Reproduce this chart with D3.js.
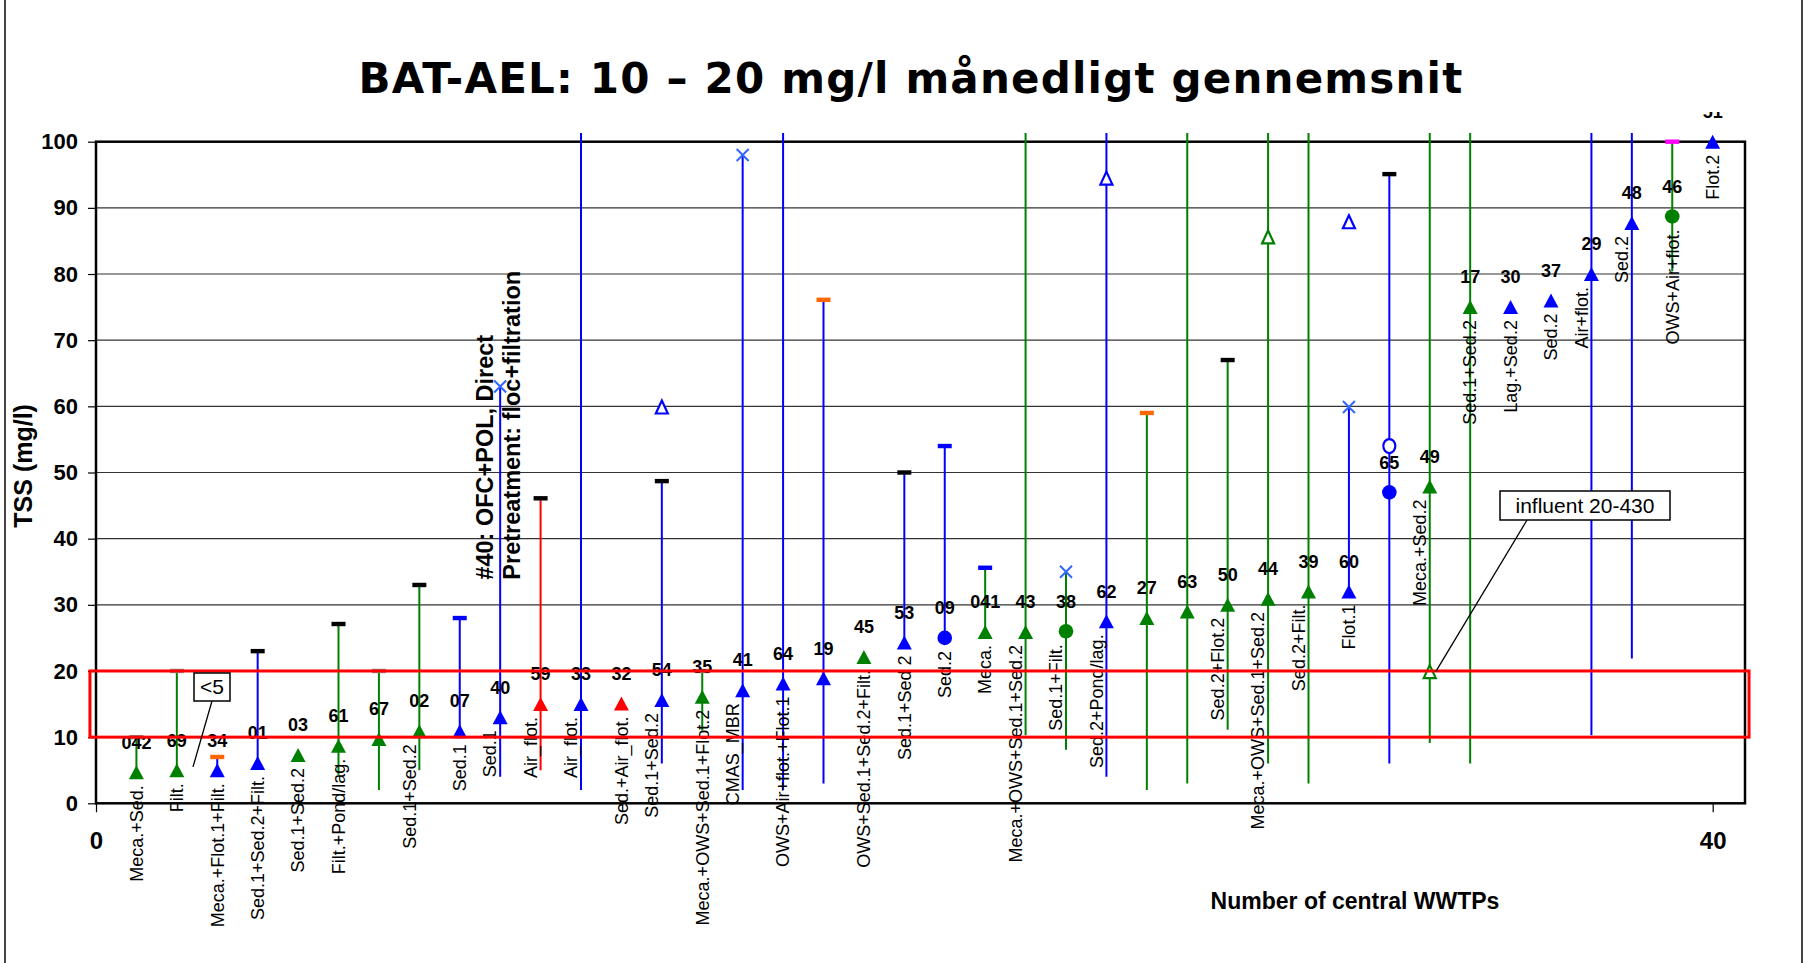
<!DOCTYPE html>
<html>
<head>
<meta charset="utf-8">
<script src="https://cdn.jsdelivr.net/npm/d3@7"></script>
<style>
  body { margin: 0; background: #fff; }
  svg { display: block; }
</style>
</head>
<body>
<svg id="chart" width="1805" height="963"></svg>
<script>
// Station numbers (shown above each point), in plotting order 1..40
const stationIds = ["042","69","34","01","03","61","67","02","07","40",
  "59","33","32","54","35","41","64","19","45","53",
  "09","041","43","38","62","27","63","50","44","39",
  "60","65","49","17","30","37","29","48","46","51"];

// Treatment description for each station ("" = no label)
const treatments = ["Meca.+Sed.","Filt.","Meca.+Flot.1+Filt.","Sed.1+Sed.2+Filt.","Sed.1+Sed.2","Filt.+Pond/lag.","","Sed.1+Sed.2","Sed.1","Sed.1",
  "Air_flot.","Air_flot.","Sed.+Air_flot.","Sed.1+Sed.2","Meca.+OWS+Sed.1+Flot.2","CMAS_MBR","OWS+Air+flot.+Flot.1","","OWS+Sed.1+Sed.2+Filt.","Sed.1+Sed 2",
  "Sed.2","Meca.","Meca.+OWS+Sed.1+Sed.2","Sed.1+Filt.","Sed.2+Pond/lag.","","","Sed.2+Flot.2","Meca.+OWS+Sed.1+Sed.2","Sed.2+Filt.",
  "Flot.1","","Meca.+Sed.2","Sed.1+Sed.2","Lag.+Sed.2","Sed.2","Air+flot.","Sed.2","OWS+Air+flot.","Flot.2"];

// Monthly average TSS (mg/l)
const tssValues = [4.7,5,5,6.1,7.3,8.7,9.7,10.9,10.9,13,
  15,15,15.1,15.6,16.1,17.1,18.1,18.9,22.1,24.3,
  25,25.9,25.9,26,27.5,28,29,30,30.9,32,
  32,47,47.9,75,75,76,80,87.7,88.7,100];

// Series group of each station (g = green, b = blue, r = red in the original)
const groups = ["g","g","b","b","g","g","g","g","b","b",
  "r","b","r","b","g","b","b","b","g","b",
  "b","g","g","g","b","g","g","g","g","g",
  "b","b","g","g","b","b","b","b","g","b"];

// Marker type of the average value
const avgShape = ["tri","tri","tri","tri","tri","tri","tri","tri","tri","tri",
  "tri","tri","tri","tri","tri","tri","tri","tri","tri","tri",
  "circle","tri","tri","circle","tri","tri","tri","tri","tri","tri",
  "tri","circle","tri","tri","tri","tri","tri","tri","circle","tri"];

// Range of single values (min / max, null = no range drawn)
const rangeMin = [4.7,5,5,6.1,null,4.3,2,5,10,4,
  5,2,null,6,11,2,2,3,null,24.3,
  25,25.9,10.3,8.1,4,2,3,11.1,6,3,
  32,6,9.1,6,null,null,10.3,21.9,80.4,null];
const rangeMax = [10,20,7,23,null,27.1,20,33,28,63,
  46.1,101.3,null,48.7,20,98,101.3,76.1,null,50,
  54,35.6,101.3,35,101.3,59,101.3,67,101.3,101.3,
  60,95.1,101.3,101.3,null,null,101.3,101.3,100,null];
// Kind of end mark at the max of the range
const capKind = ["k5","k5","k2","k1",null,"k1","k5","k1","k3",null,
  "k1",null,null,"k1","k5",null,null,"k2",null,"k1",
  "k3","k3",null,null,null,"k2",null,"k1",null,null,
  null,"k1",null,null,null,null,null,null,"k4",null];

// Additional single points
const extraStation = [10,16,24,31,14,25,29,31,33,32];
const extraValue = [63,98,35,59.9,59.9,94.5,85.6,87.9,19.9,54];
const extraKind = ["cross","cross","cross","cross","openTri","openTri","openTri","openTri","openTri","openCircle"];

const yTicks = [0,10,20,30,40,50,60,70,80,90,100];
const xTicks = [0,40];
const batLow = 10, batHigh = 20;

// stations whose treatment label sits left of the range line
const shiftedLabels = new Set(["02","40","59","33","54","41","43","38","62","50","44","39","49","29","48"]);

const svg = d3.select("#chart");
const W = 1805, H = 963;

const x = d3.scaleLinear().domain([0, 40.8]).range([96, 1745]);
const y = d3.scaleLinear().domain([0, 100]).range([803.3, 141.7]);

const colors = d3.scaleOrdinal().domain(["g","b","r"]).range(["#008000","#0000ff","#ff0000"]);
const capColors = d3.scaleOrdinal().domain(["k1","k2","k3","k4","k5"])
  .range(["#000000","#ff6600","#0000ff","#ff00ff","#8c8c8c"]);

const boldFont = "'Liberation Sans', Arial, sans-serif";

// outer frame
svg.append("line").attr("x1", 5).attr("x2", 5).attr("y1", 0).attr("y2", H)
  .attr("stroke", "#444").attr("stroke-width", 2);
svg.append("line").attr("x1", 1802).attr("x2", 1802).attr("y1", 0).attr("y2", H)
  .attr("stroke", "#444").attr("stroke-width", 2);

// title
svg.append("text")
  .attr("x", 911).attr("y", 93)
  .attr("text-anchor", "middle")
  .style("font-family", "'DejaVu Sans', Verdana, sans-serif")
  .style("font-weight", "bold")
  .style("font-size", "42px")
  .style("letter-spacing", "1.2px")
  .text("BAT-AEL: 10 – 20 mg/l månedligt gennemsnit");

// gridlines
svg.append("g").selectAll("line")
  .data(yTicks.filter(t => t > 0 && t < 100))
  .enter().append("line")
  .attr("x1", x(0)).attr("x2", x(40.8))
  .attr("y1", d => y(d)).attr("y2", d => y(d))
  .attr("stroke", "#333").attr("stroke-width", 1.2);

// y axis
const yAxis = svg.append("g")
  .attr("transform", `translate(${x(0)},0)`)
  .call(d3.axisLeft(y).tickValues(yTicks).tickSize(8).tickPadding(10));
yAxis.select(".domain").remove();
yAxis.selectAll("line").attr("stroke", "#000").attr("stroke-width", 1.2);
yAxis.selectAll("text")
  .style("font-family", boldFont).style("font-weight", "bold").style("font-size", "22px")
  .attr("fill", "#000");

// x axis
const xAxis = svg.append("g")
  .attr("transform", `translate(0,${y(0)})`)
  .call(d3.axisBottom(x).tickValues(xTicks).tickSize(9).tickPadding(20));
xAxis.select(".domain").remove();
xAxis.selectAll("line").attr("stroke", "#000").attr("stroke-width", 1.2);
xAxis.selectAll("text")
  .style("font-family", boldFont).style("font-weight", "bold").style("font-size", "24px")
  .attr("fill", "#000");

// plot border
svg.append("rect")
  .attr("x", x(0)).attr("y", y(100))
  .attr("width", x(40.8) - x(0)).attr("height", y(0) - y(100))
  .attr("fill", "none").attr("stroke", "#000").attr("stroke-width", 2.5);

// axis titles
svg.append("text")
  .attr("transform", `translate(32,${y(51)}) rotate(-90)`)
  .attr("text-anchor", "middle")
  .style("font-family", boldFont).style("font-weight", "bold").style("font-size", "25px")
  .text("TSS (mg/l)");
svg.append("text")
  .attr("x", 1355).attr("y", 909)
  .attr("text-anchor", "middle")
  .style("font-family", boldFont).style("font-weight", "bold").style("font-size", "23px")
  .text("Number of central WWTPs");

const stations = stationIds.map((id, i) => ({
  id, n: i + 1, label: treatments[i], value: tssValues[i], group: groups[i],
  shape: avgShape[i], min: rangeMin[i], max: rangeMax[i], cap: capKind[i]
}));

// range lines
svg.append("g").selectAll("line")
  .data(stations.filter(d => d.min !== null))
  .enter().append("line")
  .attr("x1", d => x(d.n)).attr("x2", d => x(d.n))
  .attr("y1", d => y(d.min)).attr("y2", d => y(d.max))
  .attr("stroke", d => colors(d.group)).attr("stroke-width", 2);

// caps at range max
svg.append("g").selectAll("rect")
  .data(stations.filter(d => d.cap))
  .enter().append("rect")
  .attr("x", d => x(d.n) - 7).attr("y", d => y(d.max) - 2.2)
  .attr("width", 14).attr("height", 4.4)
  .attr("fill", d => capColors(d.cap));

const triPath = (w, h) => `M0,${-h / 2}L${w / 2},${h / 2}L${-w / 2},${h / 2}Z`;

// extra points
const extras = extraStation.map((s, i) => ({ n: s, value: extraValue[i], kind: extraKind[i], group: groups[s - 1] }));
const ex = svg.append("g");
extras.forEach(d => {
  const g = ex.append("g").attr("transform", `translate(${x(d.n)},${y(d.value)})`);
  if (d.kind === "cross") {
    g.append("path").attr("d", "M-6,-6L6,6M-6,6L6,-6")
      .attr("stroke", "#3366ff").attr("stroke-width", 2).attr("fill", "none");
  } else if (d.kind === "openTri") {
    g.append("path").attr("d", triPath(12, 13))
      .attr("fill", "#fff").attr("stroke", colors(d.group)).attr("stroke-width", 2.2);
  } else {
    g.append("ellipse").attr("rx", 6).attr("ry", 7)
      .attr("fill", "#fff").attr("stroke", colors(d.group)).attr("stroke-width", 2.2);
  }
});

// average markers
const marks = svg.append("g").selectAll("g")
  .data(stations)
  .enter().append("g")
  .attr("transform", d => `translate(${x(d.n)},${y(d.value)})`);
marks.filter(d => d.shape === "tri").append("path")
  .attr("d", triPath(15, 14)).attr("fill", d => colors(d.group));
marks.filter(d => d.shape === "circle").append("circle")
  .attr("r", 7.3).attr("fill", d => colors(d.group));

// labels
svg.append("clipPath").attr("id", "labclip")
  .append("rect").attr("x", 0).attr("y", 112).attr("width", W).attr("height", H);
const labels = svg.append("g").attr("clip-path", "url(#labclip)");

labels.selectAll("text.num")
  .data(stations)
  .enter().append("text")
  .attr("class", "num")
  .attr("x", d => x(d.n)).attr("y", d => y(d.value) - 30)
  .attr("dy", "0.35em")
  .attr("text-anchor", "middle")
  .style("font-family", boldFont).style("font-weight", "bold").style("font-size", "18px")
  .text(d => d.id);

labels.selectAll("text.trt")
  .data(stations.filter(d => d.label))
  .enter().append("text")
  .attr("class", "trt")
  .attr("transform", d => `translate(${x(d.n) - (shiftedLabels.has(d.id) ? 10 : 0)},${y(d.value) + 13}) rotate(-90)`)
  .attr("dy", "0.35em")
  .attr("text-anchor", "end")
  .style("font-family", boldFont).style("font-size", "18px")
  .text(d => d.label);

// BAT-AEL band 10-20 mg/l
svg.append("rect")
  .attr("x", x(-0.15)).attr("y", y(batHigh))
  .attr("width", x(40.9) - x(-0.15)).attr("height", y(batLow) - y(batHigh))
  .attr("fill", "none").attr("stroke", "#ff0000").attr("stroke-width", 3);

// annotation for station 40
const ann = svg.append("g")
  .style("font-family", boldFont).style("font-weight", "bold").style("font-size", "23.5px");
ann.append("text")
  .attr("transform", `translate(${x(10) - 15},${y(33.8)}) rotate(-90)`)
  .attr("dy", "0.35em")
  .text("#40: OFC+POL, Direct");
ann.append("text")
  .attr("transform", `translate(${x(10) + 12},${y(33.8)}) rotate(-90)`)
  .attr("dy", "0.35em")
  .text("Pretreatment: floc+filtration");

// callout "<5"
svg.append("line")
  .attr("x1", 212).attr("y1", 701).attr("x2", 193).attr("y2", y(5.5))
  .attr("stroke", "#000").attr("stroke-width", 1.3);
svg.append("rect").attr("x", 194).attr("y", 673).attr("width", 36).attr("height", 28)
  .attr("fill", "#fff").attr("stroke", "#000").attr("stroke-width", 1.5);
svg.append("text").attr("x", 212).attr("y", 687).attr("dy", "0.35em")
  .attr("text-anchor", "middle")
  .style("font-family", boldFont).style("font-size", "21px").text("<5");

// callout "influent 20-430"
svg.append("line")
  .attr("x1", 1527).attr("y1", 520).attr("x2", x(33) + 6).attr("y2", y(19.9))
  .attr("stroke", "#000").attr("stroke-width", 1.3);
svg.append("rect").attr("x", 1500).attr("y", 491).attr("width", 170).attr("height", 29)
  .attr("fill", "#fff").attr("stroke", "#000").attr("stroke-width", 1.5);
svg.append("text").attr("x", 1585).attr("y", 506).attr("dy", "0.35em")
  .attr("text-anchor", "middle")
  .style("font-family", boldFont).style("font-size", "21px").text("influent 20-430");
</script>
</body>
</html>
